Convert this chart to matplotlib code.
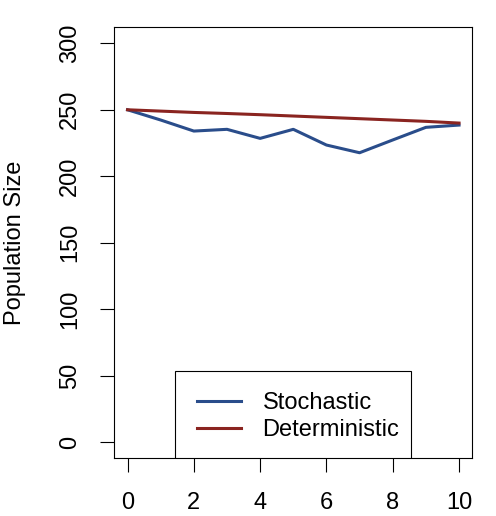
import numpy as np
import matplotlib
matplotlib.use("Agg")
import matplotlib.pyplot as plt
from matplotlib.patches import Rectangle

# ----------------------------------------------------------------------
# Data
# ----------------------------------------------------------------------
time = [0, 1, 2, 3, 4, 5, 6, 7, 8, 9, 10]
stochastic = [250, 242.3, 234, 235.3, 228.5, 235.3, 223.5, 217.7, 227.3, 236.8, 238.5]
deterministic = [250, 249.0, 248.0, 247.2, 246.3, 245.3, 244.3, 243.3, 242.3, 241.3, 240.0]

series_names = ["Stochastic", "Deterministic"]
series_colors = ["#2A4D8B", "#8A2420"]

plt.rcParams['font.family'] = ['Liberation Sans', 'DejaVu Sans']
fs = 17

fig = plt.figure(figsize=(4.96, 5.16), dpi=100)
ax = fig.add_axes([0.2304, 0.1118, 0.7218, 0.8353])

ax.plot(time, stochastic, color=series_colors[0], lw=2.2, label=series_names[0],
        solid_joinstyle='round')
ax.plot(time, deterministic, color=series_colors[1], lw=2.2, label=series_names[1],
        solid_joinstyle='round')

ax.set_xlim(-0.4, 10.4)
ax.set_ylim(-12, 312)
ax.set_xticks([0, 2, 4, 6, 8, 10])
ax.set_yticks([0, 50, 100, 150, 200, 250, 300])
ax.tick_params(axis='both', direction='out', length=10, width=0.8, labelsize=fs, color='black')
ax.tick_params(axis='x', pad=14)
ax.tick_params(axis='y', pad=14)
for lab in ax.get_yticklabels():
    lab.set_rotation(90)
    lab.set_va('center')
for s in ax.spines.values():
    s.set_linewidth(0.8)

ax.set_ylabel("Population Size", fontsize=fs, labelpad=24)

# legend frame (R style box sitting on the bottom of the plot)
ax.add_patch(Rectangle((0.169, 0.0), 0.659, 0.2026, transform=ax.transAxes,
                       facecolor='white', edgecolor='black', lw=0.8, zorder=3))
leg = ax.legend(loc='upper left', bbox_to_anchor=(0.230, 0.154), frameon=False,
                fontsize=fs, handlelength=1.86, handletextpad=0.93, borderpad=0,
                borderaxespad=0, labelspacing=0.23)
leg.set_zorder(4)

fig.savefig("out.png", dpi=100)
